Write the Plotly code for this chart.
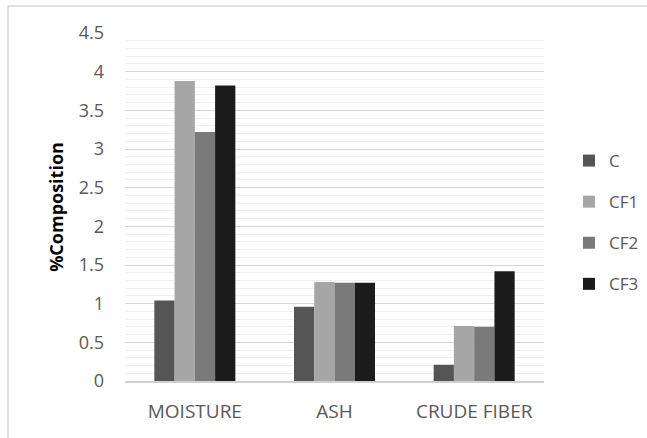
import plotly.graph_objects as go

categories = ["MOISTURE", "ASH", "CRUDE FIBER"]
series_names = ["C", "CF1", "CF2", "CF3"]
c_vals = [1.04, 0.96, 0.21]
cf1_vals = [3.88, 1.28, 0.71]
cf2_vals = [3.22, 1.27, 0.70]
cf3_vals = [3.82, 1.27, 1.42]
colors = ["#555555", "#a6a6a6", "#7a7a7a", "#1c1c1c"]
y_ticks = [0, 0.5, 1, 1.5, 2, 2.5, 3, 3.5, 4, 4.5]
y_tick_labels = ["0", "0.5", "1", "1.5", "2", "2.5", "3", "3.5", "4", "4.5"]

fig = go.Figure()
for name, vals, col in zip(series_names, [c_vals, cf1_vals, cf2_vals, cf3_vals], colors):
    fig.add_trace(go.Bar(name=name, x=categories, y=vals, legendgroup=name,
                         marker=dict(color=col, line=dict(width=0))))

W, H = 647, 438
L, R, T, B = 125, 103, 33, 57
PW, PH = W - L - R, H - T - B
FONT = "Open Sans, Liberation Sans, sans-serif"
fig.update_layout(
    width=W, height=H,
    margin=dict(l=L, r=R, t=T, b=B, autoexpand=False),
    paper_bgcolor="white", plot_bgcolor="white",
    barmode="group", bargap=0.42, bargroupgap=0,
    font=dict(family=FONT, color="#595959", size=18),
    legend=dict(x=(569 - L) / PW, y=(H - B - 143) / PH, xanchor="left", yanchor="top",
                font=dict(size=17, color="#595959"), tracegroupgap=16,
                itemsizing="constant", traceorder="grouped", itemwidth=30),
    xaxis=dict(showgrid=False, showline=True, linecolor="#d0d0d0", linewidth=2,
               ticks="", ticklabelstandoff=12, tickfont=dict(size=19, color="#595959")),
    yaxis=dict(range=[0, 4.5], tickvals=y_ticks, ticktext=y_tick_labels,
               showgrid=True, gridcolor="#d6d6d6", gridwidth=1,
               minor=dict(dtick=0.1, showgrid=True, gridcolor="#efefef", gridwidth=1),
               zeroline=False, showline=False, ticks="", ticklabelstandoff=20,
               tickfont=dict(size=18, color="#595959"),
               title=dict(text="<b>%Composition</b>", font=dict(size=18, color="#000000"), standoff=10)),
    shapes=[dict(type="rect", xref="paper", yref="paper",
                 x0=(8 - L) / PW, x1=(W + 5 - L) / PW,
                 y0=-(B + 5) / PH, y1=(H - 6 - B) / PH,
                 line=dict(color="#d9d9d9", width=1.5), fillcolor="rgba(0,0,0,0)", layer="below")],
)
fig.write_html("out.html", config={"displayModeBar": False})

with open("out.html", "r", encoding="utf-8") as f:
    html = f.read()
html = html.replace("<head>", "<head><style>html,body{margin:0;padding:0;overflow:hidden;}</style>", 1)
with open("out.html", "w", encoding="utf-8") as f:
    f.write(html)
